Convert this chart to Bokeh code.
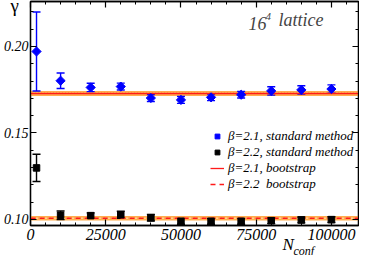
import math
from bokeh.plotting import figure
from bokeh.models import (Range1d, LinearAxis, SingleIntervalTicker, Whisker, ColumnDataSource,
                          BoxAnnotation, Span, Label, Legend, LegendItem, TeeHead, Title,
                          PrintfTickFormatter, CustomLabelingPolicy)
from bokeh.embed import file_html
from bokeh.resources import INLINE

# ---- data ----
n_conf = [2000, 10000, 20000, 30000, 40000, 50000, 60000, 70000, 80000, 90000, 100000]
gamma_b21 = [0.1971, 0.1802, 0.1763, 0.1768, 0.1702, 0.1691, 0.1706, 0.1721, 0.1743, 0.1749, 0.1754]
err_b21 = [0.0228, 0.0045, 0.0024, 0.0020, 0.0020, 0.0020, 0.0019, 0.0019, 0.0024, 0.0024, 0.0024]
gamma_b22 = [0.1298, 0.1024, 0.1022, 0.1027, 0.1010, 0.0989, 0.0989, 0.0989, 0.0993, 0.0997, 0.0999]
err_b22 = [0.0079, 0.0025, 0.0016, 0.0020, 0.0019, 0.0017, 0.0017, 0.0017, 0.0017, 0.0017, 0.0017]
boot_b21 = 0.1728
boot_b21_err = 0.0015
boot_b22 = 0.1007
boot_b22_err = 0.0013
x_ticks_major = 25000
y_ticks_major = 0.05

labels = ["\u03b2=2.1, standard method", "\u03b2=2.2, standard method",
          "\u03b2=2.1, bootstrap", "\u03b2=2.2\u00a0\u00a0bootstrap"]

XMIN, XMAX = 0, 109000
YMIN, YMAX = 0.0965, 0.2260

FONT = "Liberation Serif"
BLUE = "#0000ff"
RED = "#ff1a1a"
ORANGE = "#ffa33a"

p = figure(width=359, height=255, output_backend="svg", toolbar_location=None,
           x_range=Range1d(XMIN, XMAX), y_range=Range1d(YMIN, YMAX),
           min_border_left=25, min_border_right=1, min_border_top=1, min_border_bottom=30,
           background_fill_color="white", border_fill_color="white")
p.grid.visible = False
p.outline_line_color = "black"
p.outline_line_width = 1.3

NO_LABELS = "for (const i of indices) { indices.unset(i) }; return indices"

def style_axis(ax, show_labels):
    ax.axis_line_color = "black"
    ax.axis_line_width = 1.3
    ax.major_tick_in = 6
    ax.major_tick_out = 0
    ax.minor_tick_in = 3
    ax.minor_tick_out = 0
    ax.major_tick_line_width = 1.2
    ax.minor_tick_line_width = 1.0
    ax.major_label_text_font = FONT
    ax.major_label_text_font_style = "italic"
    ax.major_label_text_color = "black"
    if not show_labels:
        ax.major_label_policy = CustomLabelingPolicy(code=NO_LABELS)
        ax.major_label_text_font_size = "0px"
        ax.major_label_standoff = 0

xax = p.xaxis[0]
yax = p.yaxis[0]
xax.ticker = SingleIntervalTicker(interval=x_ticks_major, num_minor_ticks=5)
yax.ticker = SingleIntervalTicker(interval=y_ticks_major, num_minor_ticks=5)
xax.formatter = PrintfTickFormatter(format="%d")
yax.formatter = PrintfTickFormatter(format="%.2f")
style_axis(xax, True)
style_axis(yax, True)
xax.major_label_text_font_size = "16px"
xax.major_label_standoff = 3
yax.major_label_text_font_size = "14px"
yax.major_label_standoff = 2

top_ax = LinearAxis(ticker=SingleIntervalTicker(interval=x_ticks_major, num_minor_ticks=5))
right_ax = LinearAxis(ticker=SingleIntervalTicker(interval=y_ticks_major, num_minor_ticks=5))
style_axis(top_ax, False)
style_axis(right_ax, False)
p.add_layout(top_ax, "above")
p.add_layout(right_ax, "right")

# ---- axis titles (side-panel titles, so they are not clipped) ----
p.add_layout(Title(text="\u03b3", align="left", offset=-20, standoff=-29,
                   vertical_align="bottom", text_font=FONT, text_font_size="19px",
                   text_font_style="normal", text_color="black"), "above")
p.add_layout(Title(text="N", align="left", offset=252, standoff=-16,
                   vertical_align="top", text_font=FONT, text_font_size="17px",
                   text_font_style="italic", text_color="black"), "below")
p.add_layout(Title(text="conf", align="left", offset=263, standoff=-8,
                   vertical_align="top", text_font=FONT, text_font_size="12px",
                   text_font_style="italic", text_color="black"), "below")

# ---- bootstrap bands and lines ----
p.add_layout(BoxAnnotation(bottom=boot_b21 - boot_b21_err, top=boot_b21 + boot_b21_err,
                           fill_color=ORANGE, fill_alpha=0.9, line_alpha=0, level="underlay"))
p.add_layout(Span(location=boot_b21 + 0.0006, dimension="width", line_color="#ffe27a",
                  line_width=1.2, line_dash="1 2", level="underlay"))
p.add_layout(BoxAnnotation(bottom=boot_b22 - boot_b22_err, top=boot_b22 + boot_b22_err,
                           fill_color=ORANGE, fill_alpha=0.9, line_alpha=0, level="underlay"))
p.add_layout(Span(location=boot_b22, dimension="width", line_color="#fff4d0",
                  line_width=1.3, line_dash="1 2", level="underlay"))

l21 = p.line(x=[XMIN, XMAX], y=[boot_b21, boot_b21], line_color=RED, line_width=1.3)
l22 = p.line(x=[XMIN, XMAX], y=[boot_b22, boot_b22], line_color=RED, line_width=1.3,
             line_dash="5 4")

# ---- data points with error bars ----
src21 = ColumnDataSource(dict(x=n_conf, y=gamma_b21,
                              lo=[g - e for g, e in zip(gamma_b21, err_b21)],
                              hi=[g + e for g, e in zip(gamma_b21, err_b21)]))
src22 = ColumnDataSource(dict(x=n_conf, y=gamma_b22,
                              lo=[g - e for g, e in zip(gamma_b22, err_b22)],
                              hi=[g + e for g, e in zip(gamma_b22, err_b22)]))

for src, col in ((src21, BLUE), (src22, "black")):
    p.add_layout(Whisker(source=src, base="x", upper="hi", lower="lo", dimension="height",
                         line_color=col, line_width=1.4,
                         upper_head=TeeHead(size=8, line_color=col, line_width=1.4),
                         lower_head=TeeHead(size=8, line_color=col, line_width=1.4)))

r21 = p.scatter("x", "y", source=src21, marker="square", angle=math.pi / 4, size=6.5,
                fill_color=BLUE, line_color=BLUE)
r22 = p.scatter("x", "y", source=src22, marker="square", size=6.5,
                fill_color="black", line_color="black")

legend = Legend(items=[LegendItem(label=labels[0], renderers=[r21]),
                       LegendItem(label=labels[1], renderers=[r22]),
                       LegendItem(label=labels[2], renderers=[l21]),
                       LegendItem(label=labels[3], renderers=[l22])],
                location=(180, 33), background_fill_alpha=0, border_line_alpha=0,
                padding=0, margin=0, spacing=-2, glyph_width=14, glyph_height=12,
                label_height=12, label_standoff=4,
                label_text_font=FONT, label_text_font_style="italic",
                label_text_font_size="13px", label_text_color="black")
p.add_layout(legend)

# ---- in-frame text ----
p.add_layout(Label(x=XMAX, y=YMAX, x_offset=-110, y_offset=-28, text="16",
                   text_font=FONT, text_font_style="italic", text_font_size="18px"))
p.add_layout(Label(x=XMAX, y=YMAX, x_offset=-93, y_offset=-18, text="4",
                   text_font=FONT, text_font_style="italic", text_font_size="11px"))
p.add_layout(Label(x=XMAX, y=YMAX, x_offset=-80, y_offset=-28, text="lattice",
                   text_font=FONT, text_font_style="italic", text_font_size="18px"))

open("out.html", "w").write(file_html(p, INLINE))
